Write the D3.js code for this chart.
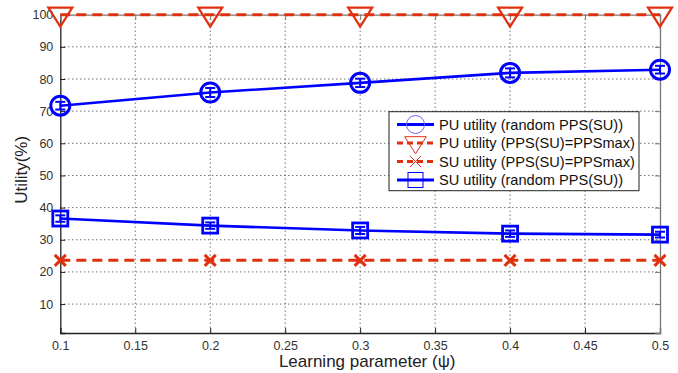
<!DOCTYPE html>
<html>
<head>
<meta charset="utf-8">
<script src="https://cdn.jsdelivr.net/npm/d3@7"></script>
<style>
  body { margin: 0; background: #fff; }
  text { font-family: "Liberation Sans", Arial, sans-serif; }
</style>
</head>
<body>
<svg id="chart" width="678" height="373"></svg>
<script>
// Learning parameter values on the x axis
const learningParam = [0.1, 0.2, 0.3, 0.4, 0.5];

// Utility series (%)
const puRandom   = [71.7, 75.8, 78.8, 81.9, 82.9];
const puMax      = [100, 100, 100, 100, 100];
const suMax      = [23.6, 23.6, 23.6, 23.6, 23.6];
const suRandom   = [36.6, 34.4, 32.9, 31.9, 31.6];

// Half-width of the error bars drawn on the random-PPS series
const puRandomErr = [1.2, 1.4, 1.3, 1.4, 1.2];
const suRandomErr = [1.0, 1.0, 1.1, 1.0, 0.9];

// Tick labels
const xTicks = [0.1, 0.15, 0.2, 0.25, 0.3, 0.35, 0.4, 0.45, 0.5];
const yTicks = [10, 20, 30, 40, 50, 60, 70, 80, 90, 100];

const legendLabels = [
  "PU utility (random PPS(SU))",
  "PU utility (PPS(SU)=PPSmax)",
  "SU utility (PPS(SU)=PPSmax)",
  "SU utility (random PPS(SU))"
];

const BLUE = "#0000ff";
const RED = "#e0300f";

const svg = d3.select("#chart");
const plotLeft = 60.3, plotRight = 660, plotTop = 14.7, plotBottom = 333;

const x = d3.scaleLinear().domain([0.1, 0.5]).range([plotLeft, plotRight]);
const y = d3.scaleLinear().domain([1, 100]).range([plotBottom, plotTop]);

// Dotted grid
const grid = svg.append("g");
grid.selectAll("line.gx").data(xTicks.slice(1, -1)).join("line")
  .attr("x1", d => x(d)).attr("x2", d => x(d))
  .attr("y1", plotTop).attr("y2", plotBottom)
  .attr("stroke", "#333").attr("stroke-width", 1).attr("stroke-dasharray", "1,3");
grid.selectAll("line.gy").data(yTicks.slice(0, -1)).join("line")
  .attr("x1", plotLeft).attr("x2", plotRight)
  .attr("y1", d => y(d)).attr("y2", d => y(d))
  .attr("stroke", "#333").attr("stroke-width", 1).attr("stroke-dasharray", "1,3");

// Axes (ticks point inward)
const axisColor = "#222";
const xAxis = svg.append("g").attr("transform", `translate(0,${plotBottom})`)
  .call(d3.axisBottom(x).tickValues(xTicks).tickSize(-5).tickPadding(14)
    .tickFormat(d => String(+d.toFixed(2))));
const yAxis = svg.append("g").attr("transform", `translate(${plotLeft},0)`)
  .call(d3.axisLeft(y).tickValues(yTicks).tickSize(-5).tickPadding(7));
const xTop = svg.append("g").attr("transform", `translate(0,${plotTop})`)
  .call(d3.axisTop(x).tickValues(xTicks).tickSize(-5).tickFormat(""));
const yRight = svg.append("g").attr("transform", `translate(${plotRight},0)`)
  .call(d3.axisRight(y).tickValues(yTicks).tickSize(-5).tickFormat(""));

[xAxis, yAxis].forEach(g => {
  g.select(".domain").attr("stroke", axisColor).attr("stroke-width", 1.3);
  g.selectAll(".tick line").attr("stroke", axisColor);
  g.selectAll(".tick text").attr("fill", "#333").attr("font-size", 12.5)
    .style("font-family", "Liberation Sans, Arial, sans-serif");
});
[xTop, yRight].forEach(g => {
  g.select(".domain").attr("stroke", "#777").attr("stroke-width", 1.3);
  g.selectAll(".tick line").attr("stroke", "#777");
});
xAxis.selectAll(".tick text").attr("dy", "0.2em");

// Axis titles
svg.append("text")
  .attr("x", (plotLeft + plotRight) / 2 + 7).attr("y", 367)
  .attr("text-anchor", "middle").attr("font-size", 17).attr("fill", "#222")
  .text("Learning parameter (\u03C8)");
svg.append("text")
  .attr("transform", `translate(27,${(plotTop + plotBottom) / 2 - 4}) rotate(-90)`)
  .attr("text-anchor", "middle").attr("font-size", 17).attr("fill", "#222")
  .text("Utility(%)");

const line = vals => d3.line().x((d, i) => x(learningParam[i])).y(d => y(d))(vals);

// Series lines
svg.append("path").attr("d", line(puMax)).attr("fill", "none")
  .attr("stroke", RED).attr("stroke-width", 3).attr("stroke-dasharray", "10,6");
svg.append("path").attr("d", line(suMax)).attr("fill", "none")
  .attr("stroke", RED).attr("stroke-width", 3).attr("stroke-dasharray", "10,6");
svg.append("path").attr("d", line(puRandom)).attr("fill", "none")
  .attr("stroke", BLUE).attr("stroke-width", 2.6);
svg.append("path").attr("d", line(suRandom)).attr("fill", "none")
  .attr("stroke", BLUE).attr("stroke-width", 2.6);

// Error bars
function errorBars(vals, errs) {
  const g = svg.append("g").attr("stroke", BLUE).attr("stroke-width", 2);
  vals.forEach((v, i) => {
    const cx = x(learningParam[i]);
    const y0 = y(v - errs[i]), y1 = y(v + errs[i]);
    g.append("line").attr("x1", cx).attr("x2", cx).attr("y1", y0).attr("y2", y1);
    g.append("line").attr("x1", cx - 5).attr("x2", cx + 5).attr("y1", y0).attr("y2", y0);
    g.append("line").attr("x1", cx - 5).attr("x2", cx + 5).attr("y1", y1).attr("y2", y1);
  });
}
errorBars(puRandom, puRandomErr);
errorBars(suRandom, suRandomErr);

// Marker shapes
function circle(g, cx, cy) {
  g.append("circle").attr("cx", cx).attr("cy", cy).attr("r", 9.5)
    .attr("fill", "none").attr("stroke", BLUE).attr("stroke-width", 3);
}
function triangle(g, cx, cy, s = 1, sw = 2.2) {
  g.append("path")
    .attr("d", `M${cx - 12 * s},${cy - 7 * s}L${cx + 12 * s},${cy - 7 * s}L${cx},${cy + 12 * s}Z`)
    .attr("fill", "none").attr("stroke", RED).attr("stroke-width", sw);
}
function cross(g, cx, cy, s = 1, sw = 3) {
  const r = 5.5 * s;
  g.append("path").attr("d", `M${cx - r},${cy - r}L${cx + r},${cy + r}M${cx - r},${cy + r}L${cx + r},${cy - r}`)
    .attr("fill", "none").attr("stroke", RED).attr("stroke-width", sw);
}
function square(g, cx, cy, s = 1, sw = 2.8) {
  const h = 7.5 * s;
  g.append("rect").attr("x", cx - h).attr("y", cy - h).attr("width", 2 * h).attr("height", 2 * h)
    .attr("fill", "none").attr("stroke", BLUE).attr("stroke-width", sw);
}

const markers = svg.append("g");
learningParam.forEach((p, i) => {
  circle(markers, x(p), y(puRandom[i]));
  triangle(markers, x(p), y(puMax[i]));
  cross(markers, x(p), y(suMax[i]));
  square(markers, x(p), y(suRandom[i]));
});

// Legend
const lg = svg.append("g");
lg.append("rect").attr("x", 389).attr("y", 111.7).attr("width", 250).attr("height", 79)
  .attr("fill", "#fff").attr("stroke", "#222").attr("stroke-width", 1);
const legendStyles = [
  { color: BLUE, dash: null, mark: (g, cx, cy) => g.append("circle").attr("cx", cx).attr("cy", cy).attr("r", 9)
      .attr("fill", "none").attr("stroke", "#6b6bff").attr("stroke-width", 1) },
  { color: RED, dash: "6,4", mark: (g, cx, cy) => triangle(g, cx, cy, 0.9, 1) },
  { color: RED, dash: "6,4", mark: (g, cx, cy) => cross(g, cx, cy, 1, 1) },
  { color: BLUE, dash: null, mark: (g, cx, cy) => square(g, cx, cy, 1, 1) }
];
legendLabels.forEach((lab, i) => {
  const cy = 124.5 + i * 18.5;
  const st = legendStyles[i];
  lg.append("line").attr("x1", 397).attr("x2", 434).attr("y1", cy).attr("y2", cy)
    .attr("stroke", st.color).attr("stroke-width", 3)
    .attr("stroke-dasharray", st.dash);
  st.mark(lg, 415.5, cy);
  lg.append("text").attr("x", 439).attr("y", cy + 5).attr("font-size", 14.6).attr("fill", "#111")
    .text(lab);
});
</script>
</body>
</html>
